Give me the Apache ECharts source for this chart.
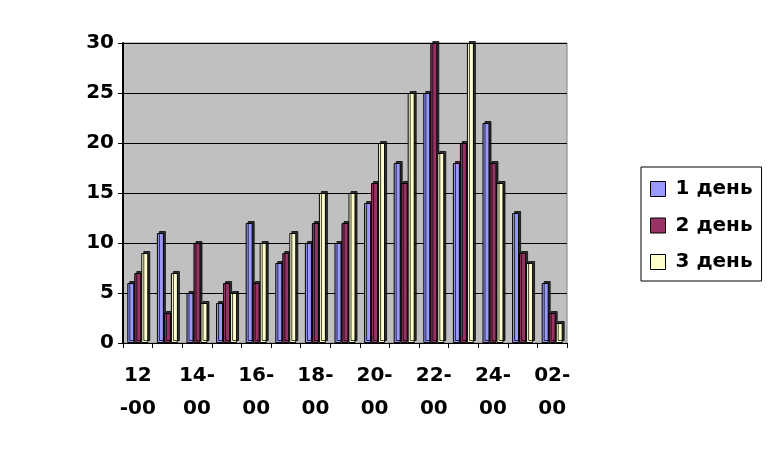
<!DOCTYPE html>
<html><head><meta charset="utf-8">
<script src="https://cdn.jsdelivr.net/npm/echarts@6/dist/echarts.min.js"></script>
<style>html,body{margin:0;padding:0;background:#fff}#c{width:776px;height:450px}</style>
</head><body><div id="c"></div>
<script>
var categories = ["12-00","13-00","14-00","15-00","16-00","17-00","18-00","19-00","20-00","21-00","22-00","23-00","24-00","01-00","02-00"];
var day1 = [6,11,5,4,12,8,10,10,14,18,25,18,22,13,6];
var day2 = [7,3,10,6,6,9,12,12,16,16,30,20,18,9,3];
var day3 = [9,7,4,5,10,11,15,15,20,25,19,30,16,8,2];
var seriesNames = ["1 день","2 день","3 день"];
var yTicks = [0,5,10,15,20,25,30];

var chart = echarts.init(document.getElementById('c'), null, {renderer:'canvas'});
var font = '"DejaVu Sans", Arial, sans-serif';
function mk(name, data, color){
  return {
    name: name, type: 'bar', data: data, barWidth: 7, barGap: '0%',
    itemStyle: {color: color, borderColor: '#000', borderWidth: 1,
      shadowColor: 'rgba(0,0,0,0.75)', shadowOffsetX: 2, shadowOffsetY: -2, shadowBlur: 0.01}
  };
}
chart.setOption({
  animation: false,
  backgroundColor: '#fff',
  grid: {left: 123, top: 43, width: 444, height: 300, show: true, backgroundColor: '#C0C0C0', borderColor: '#808080', borderWidth: 1},
  legend: {
    orient: 'vertical', left: 641, top: 167,
    padding: [12, 9, 9, 9], itemGap: 16.5, itemWidth: 15, itemHeight: 15,
    borderColor: '#000', borderWidth: 1, borderRadius: 0, backgroundColor: '#fff',
    icon: 'rect',
    textStyle: {fontFamily: font, fontWeight: 'bold', fontSize: 20, color: '#000', padding: [0, 0, 0, 5]},
    itemStyle: {borderColor: '#000', borderWidth: 1},
    data: seriesNames
  },
  xAxis: {
    type: 'category', data: categories, boundaryGap: true,
    axisLine: {lineStyle: {color: '#000', width: 1}},
    axisTick: {show: true, interval: 0, length: 5, lineStyle: {color: '#000'}},
    axisLabel: {
      interval: 1, margin: 16, lineHeight: 33,
      fontFamily: font, fontWeight: 'bold', fontSize: 20, color: '#000',
      formatter: function(v, i){ var p = v.split('-'); return i === 0 ? p[0] + '\n-' + p[1] : p[0] + '-\n' + p[1]; }
    },
    splitLine: {show: false}
  },
  yAxis: {
    type: 'value', min: yTicks[0], max: yTicks[yTicks.length-1], interval: 5,
    axisLine: {show: true, lineStyle: {color: '#000', width: 2}},
    axisTick: {show: true, length: 5, lineStyle: {color: '#000'}},
    axisLabel: {margin: 9, fontFamily: font, fontWeight: 'bold', fontSize: 20, color: '#000'},
    splitLine: {show: true, lineStyle: {color: '#000', width: 1}}
  },
  series: [mk(seriesNames[0], day1, '#9999FF'), mk(seriesNames[1], day2, '#993366'), mk(seriesNames[2], day3, '#FFFFCC')]
});
</script></body></html>
